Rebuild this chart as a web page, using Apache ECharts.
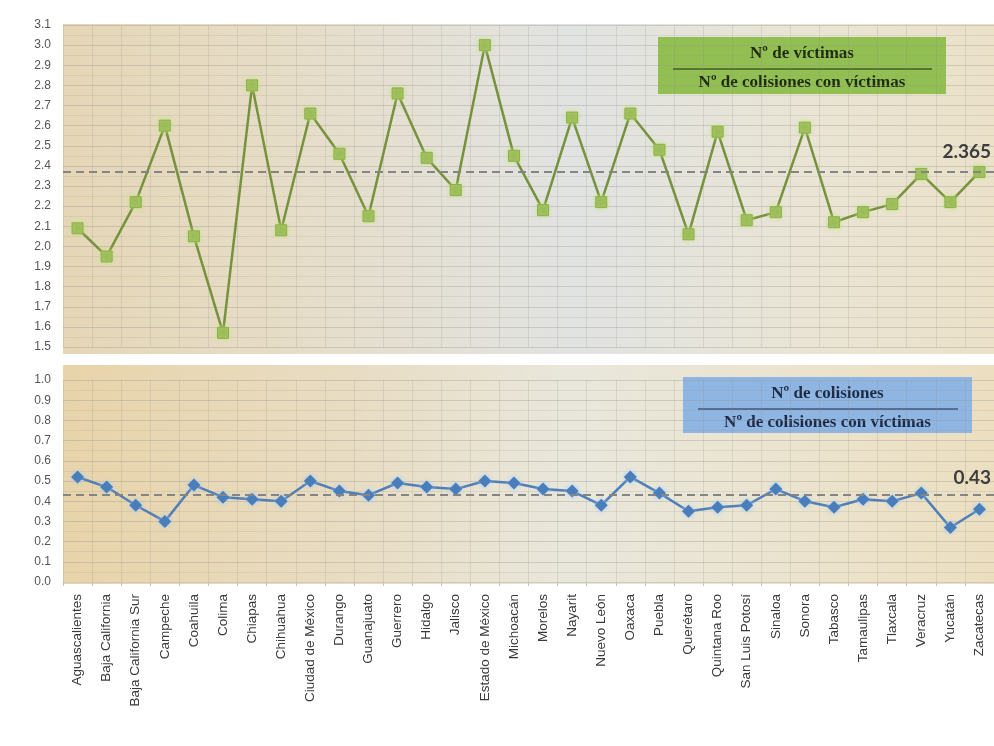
<!DOCTYPE html>
<html><head><meta charset="utf-8">
<script src="https://cdn.jsdelivr.net/npm/echarts/dist/echarts.min.js"></script>
<style>html,body{margin:0;padding:0;background:#fff}#c{width:994px;height:746px}</style>
</head><body><div id="c"></div>
<script>
const states = ['Aguascalientes','Baja California','Baja California Sur','Campeche','Coahuila','Colima','Chiapas','Chihuahua','Ciudad de México','Durango','Guanajuato','Guerrero','Hidalgo','Jalisco','Estado de México','Michoacán','Morelos','Nayarit','Nuevo León','Oaxaca','Puebla','Querétaro','Quintana Roo','San Luis Potosí','Sinaloa','Sonora','Tabasco','Tamaulipas','Tlaxcala','Veracruz','Yucatán','Zacatecas'];
const victimsPerCollision = [2.09,1.95,2.22,2.60,2.05,1.57,2.80,2.08,2.66,2.46,2.15,2.76,2.44,2.28,3.00,2.45,2.18,2.64,2.22,2.66,2.48,2.06,2.57,2.13,2.17,2.59,2.12,2.17,2.21,2.36,2.22,2.37];
const collisionsPerVictimCollision = [0.52,0.47,0.38,0.30,0.48,0.42,0.41,0.40,0.50,0.45,0.43,0.49,0.47,0.46,0.50,0.49,0.46,0.45,0.38,0.52,0.44,0.35,0.37,0.38,0.46,0.40,0.37,0.41,0.40,0.44,0.27,0.36];
const victimsMean = 2.365;
const collisionsMean = 0.43;
const topAxis = {min: 1.5, max: 3.1, interval: 0.1};
const bottomAxis = {min: 0, max: 1.0, interval: 0.1};
const topLegend = ['Nº de víctimas', 'Nº de colisiones con víctimas'];
const bottomLegend = ['Nº de colisiones', 'Nº de colisiones con víctimas'];

const chart = echarts.init(document.getElementById('c'), null, {renderer: 'canvas'});

const bgTop = new echarts.graphic.LinearGradient(0, 0, 1, 0, [
  {offset: 0, color: '#e5d6b6'}, {offset: 0.25, color: '#e6ddc8'},
  {offset: 0.55, color: '#e1e3e2'}, {offset: 0.8, color: '#e9e4d4'}, {offset: 1, color: '#ebe1c9'}]);
const bgBot = new echarts.graphic.LinearGradient(0, 0, 1, 0, [
  {offset: 0, color: '#e8d4aa'}, {offset: 0.3, color: '#e8dcc2'},
  {offset: 0.55, color: '#e9e7dc'}, {offset: 0.8, color: '#ebe3cd'}, {offset: 1, color: '#ecdfc0'}]);

function legendBox(x, y, w, h, fill, textColor, lines) {
  const cx = x + w / 2;
  const font = 'bold 17px "Liberation Serif", "DejaVu Serif", serif';
  return {
    type: 'group', z: 10,
    children: [
      {type: 'rect', shape: {x: x, y: y, width: w, height: h}, style: {fill: fill}},
      {type: 'text', style: {text: lines[0], x: cx, y: y + 17, fill: textColor, font: font, align: 'center', verticalAlign: 'middle', textAlign: 'center', textVerticalAlign: 'middle'}},
      {type: 'line', shape: {x1: x + 15, y1: y + 32, x2: x + w - 14, y2: y + 32}, style: {stroke: textColor, lineWidth: 1.2}},
      {type: 'text', style: {text: lines[1], x: cx, y: y + 46, fill: textColor, font: font, align: 'center', verticalAlign: 'middle', textAlign: 'center', textVerticalAlign: 'middle'}}
    ]
  };
}

const yLabel = {color: '#555', fontSize: 12, fontFamily: 'Liberation Sans, Arial, sans-serif', margin: 12,
  formatter: v => (Math.round(v * 10) / 10).toFixed(1)};
const splitH = {show: true, lineStyle: {color: 'rgba(150,150,140,0.35)', width: 1}};
const minorH = {show: true, lineStyle: {color: 'rgba(150,150,140,0.18)', width: 1}};
const splitV = {show: true, interval: 0, lineStyle: {color: 'rgba(140,140,130,0.2)', width: 1}};

const meanLabel = (txt, dy) => ({
  show: true, position: 'insideEndTop', formatter: txt, color: '#3d3d3d',
  fontSize: 19, fontWeight: 'bold', fontFamily: 'Lato, "Open Sans", sans-serif', distance: [3, dy]
});

chart.setOption({
  backgroundColor: '#ffffff',
  animation: false,
  graphic: [
    {type: 'rect', z: -1, shape: {x: 63, y: 24, width: 931, height: 330}, style: {fill: bgTop}},
    {type: 'rect', z: -1, shape: {x: 63, y: 365, width: 931, height: 219}, style: {fill: bgBot}},
    legendBox(658, 37, 288, 57, '#92bf52', '#1e2b10', topLegend),
    legendBox(683, 377, 289, 56, '#8fb5e3', '#1d2a45', bottomLegend)
  ],
  grid: [
    {left: 63, right: -6, top: 25, height: 322},
    {left: 63, right: -6, top: 380, height: 202}
  ],
  xAxis: [
    {type: 'category', gridIndex: 0, data: states, boundaryGap: true,
      axisLine: {show: false}, axisTick: {show: false}, axisLabel: {show: false, interval: 0},
      splitLine: splitV},
    {type: 'category', gridIndex: 1, data: states, boundaryGap: true,
      axisLine: {show: true, lineStyle: {color: '#d0c9b8'}},
      axisTick: {show: true, length: 4, lineStyle: {color: '#c8c0ae'}},
      axisLabel: {rotate: 90, interval: 0, margin: 12, color: '#3a3a3a', fontSize: 13.5, fontFamily: 'Liberation Sans, Arial, sans-serif'},
      splitLine: splitV}
  ],
  yAxis: [
    {type: 'value', gridIndex: 0, min: topAxis.min, max: topAxis.max, interval: topAxis.interval,
      axisLine: {show: false}, axisTick: {show: false}, axisLabel: yLabel,
      splitLine: splitH, minorTick: {show: false, splitNumber: 2}, minorSplitLine: minorH},
    {type: 'value', gridIndex: 1, min: bottomAxis.min, max: bottomAxis.max, interval: bottomAxis.interval,
      axisLine: {show: false}, axisTick: {show: false}, axisLabel: yLabel,
      splitLine: splitH, minorTick: {show: false, splitNumber: 2}, minorSplitLine: minorH}
  ],
  series: [
    {type: 'line', xAxisIndex: 0, yAxisIndex: 0, data: victimsPerCollision,
      symbol: 'rect', symbolSize: 11,
      lineStyle: {color: '#76923c', width: 2.5},
      itemStyle: {color: '#9bbb59', borderColor: '#8fb04c', borderWidth: 1, shadowColor: 'rgba(190,230,120,0.8)', shadowBlur: 4},
      markLine: {silent: true, symbol: 'none', data: [{yAxis: victimsMean}],
        lineStyle: {color: '#858585', width: 2, type: [8, 5]},
        label: meanLabel(String(victimsMean), 11)}
    },
    {type: 'line', xAxisIndex: 1, yAxisIndex: 1, data: collisionsPerVictimCollision,
      symbol: 'diamond', symbolSize: 13,
      lineStyle: {color: '#4f7fb8', width: 2.5},
      itemStyle: {color: '#4a7ebb', shadowColor: 'rgba(150,200,255,0.9)', shadowBlur: 5},
      markLine: {silent: true, symbol: 'none', data: [{yAxis: collisionsMean}],
        lineStyle: {color: '#858585', width: 2, type: [8, 5]},
        label: meanLabel(String(collisionsMean), 8)}
    }
  ]
});
</script>
</body></html>
